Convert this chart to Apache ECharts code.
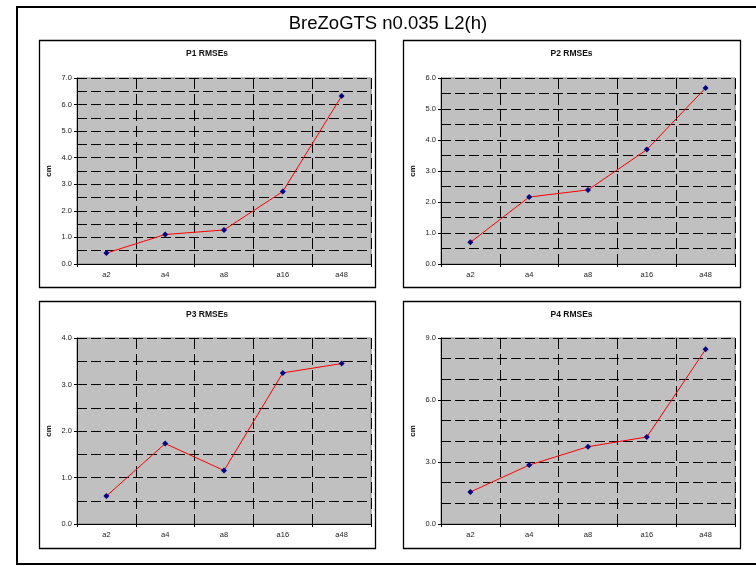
<!DOCTYPE html>
<html>
<head>
<meta charset="utf-8">
<title>BreZoGTS n0.035 L2(h)</title>
<script src="https://cdn.jsdelivr.net/npm/echarts@6/dist/echarts.min.js"></script>
<style>
  html, body { margin: 0; padding: 0; background: #fff; }
  #chart { width: 756px; height: 566px; }
</style>
</head>
<body>
<div id="chart"></div>
<script>
// Categories shared by all four panels
const categories = ['a2', 'a4', 'a8', 'a16', 'a48'];

// RMSE values (cm) per profile
const p1Values = [0.41, 1.11, 1.28, 2.73, 6.32];
const p2Values = [0.70, 2.16, 2.39, 3.69, 5.68];
const p3Values = [0.60, 1.73, 1.15, 3.25, 3.45];
const p4Values = [1.55, 2.85, 3.74, 4.21, 8.45];

// Panel titles and y-axis scales
const panelTitles = ['P1 RMSEs', 'P2 RMSEs', 'P3 RMSEs', 'P4 RMSEs'];
const yMax = [7, 6, 4, 9];
const yStep = [1, 1, 1, 3];
const yMinorSplits = [2, 2, 2, 3];
const mainTitle = 'BreZoGTS n0.035 L2(h)';
const yName = 'cm';

const FONT = '"Liberation Sans", Arial, sans-serif';
const seriesValues = [p1Values, p2Values, p3Values, p4Values];

// Panel frames and plot areas (pixels)
const panels = [
  { box: [39, 40, 336, 247], grid: [77, 78, 294, 186] },
  { box: [403, 40, 337, 247], grid: [441, 78, 294, 186] },
  { box: [39, 301, 336, 247], grid: [77, 338, 294, 186] },
  { box: [403, 301, 337, 247], grid: [441, 338, 294, 186] }
];

const dashed = { color: '#000', width: 1, type: [10, 4] };

const grids = [], xAxes = [], yAxes = [], series = [], graphics = [];

// Outer frame
graphics.push({
  type: 'rect', z: 0, silent: true,
  shape: { x: 17, y: 7, width: 760, height: 557 },
  style: { fill: '#fff', stroke: '#000', lineWidth: 2 }
});
graphics.push({
  type: 'text', z: 5, silent: true,
  style: { x: 388, y: 24, text: mainTitle, fill: '#000', font: '18.5px ' + FONT,
           textAlign: 'center', textVerticalAlign: 'middle' }
});

panels.forEach((p, i) => {
  const [bx, by, bw, bh] = p.box;
  const [gl, gt, gw, gh] = p.grid;
  graphics.push({
    type: 'rect', z: 1, silent: true,
    shape: { x: bx + 0.5, y: by + 0.5, width: bw, height: bh },
    style: { fill: '#fff', stroke: '#000', lineWidth: 1.3 }
  });
  graphics.push({
    type: 'text', z: 5, silent: true,
    style: { x: bx + bw / 2, y: by + 14, text: panelTitles[i], fill: '#111',
             font: 'bold 8.5px ' + FONT, textAlign: 'center', textVerticalAlign: 'middle' }
  });

  grids.push({
    left: gl, top: gt, width: gw, height: gh, show: true,
    backgroundColor: '#C0C0C0', borderColor: '#808080', borderWidth: 1, z: 2
  });

  xAxes.push({
    type: 'category', gridIndex: i, data: categories, boundaryGap: true,
    axisLine: { show: true, lineStyle: { color: '#000', width: 1 } },
    axisTick: { show: true, length: 3, lineStyle: { color: '#000' } },
    axisLabel: { color: '#222', fontSize: 7.5, fontFamily: FONT, margin: 7 },
    splitLine: { show: true, lineStyle: { color: '#000', width: 1, type: [11, 5] } },
    z: 3
  });

  yAxes.push({
    type: 'value', gridIndex: i, min: 0, max: yMax[i], interval: yStep[i],
    name: yName, nameLocation: 'middle', nameRotate: 90, nameGap: 24,
    nameTextStyle: { color: '#111', fontSize: 8, fontWeight: 'bold', fontFamily: FONT },
    axisLine: { show: true, lineStyle: { color: '#000', width: 1 } },
    axisTick: { show: true, length: 3, lineStyle: { color: '#000' } },
    axisLabel: { color: '#222', fontSize: 7.5, fontFamily: FONT, margin: 5,
                 formatter: v => v.toFixed(1) },
    splitLine: { show: true, lineStyle: dashed },
    minorTick: { show: false, splitNumber: yMinorSplits[i] },
    minorSplitLine: { show: true, lineStyle: dashed },
    z: 3
  });

  series.push({
    type: 'line', xAxisIndex: i, yAxisIndex: i, data: seriesValues[i],
    symbol: 'diamond', symbolSize: 6,
    itemStyle: { color: '#000080' },
    lineStyle: { color: '#FF0000', width: 1 },
    animation: false, z: 4
  });
});

const chart = echarts.init(document.getElementById('chart'), null, { renderer: 'canvas' });
chart.setOption({
  backgroundColor: '#fff',
  animation: false,
  graphic: graphics,
  grid: grids,
  xAxis: xAxes,
  yAxis: yAxes,
  series: series
});
</script>
</body>
</html>
